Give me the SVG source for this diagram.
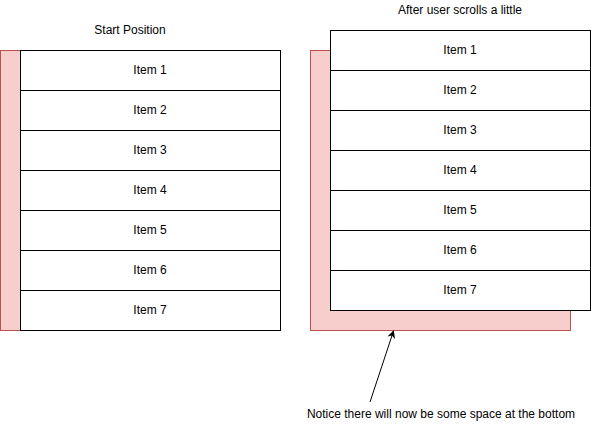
<svg xmlns="http://www.w3.org/2000/svg" width="591" height="426" viewBox="0 0 591 426">
<defs>
<style>
.bg{fill:#f8cecc;stroke:#b85450;stroke-width:1}
.it{fill:#ffffff;stroke:#000000;stroke-width:1}
text{font-family:"Liberation Sans",Arial,Helvetica,sans-serif;font-size:12px;fill:#000000;text-anchor:middle}
</style>
<marker id="ah" viewBox="0 0 10 10" refX="9" refY="5" markerWidth="8" markerHeight="8" orient="auto" markerUnits="userSpaceOnUse">
<path d="M0,0 L10,5 L0,10 L3,5 Z" fill="#000"/>
</marker>
</defs>
<rect width="591" height="426" fill="#ffffff"/>
<g id="title-left"><text x="130" y="34">Start Position</text></g>
<g id="title-right"><text x="460" y="14">After user scrolls a little</text></g>
<g id="left-bg"><rect class="bg" x="0.5" y="50.5" width="260" height="280"/></g>
<g id="left-items">
<g id="l1"><rect class="it" x="20.5" y="50.5" width="260" height="40"/><text x="150" y="74">Item 1</text></g>
<g id="l2"><rect class="it" x="20.5" y="90.5" width="260" height="40"/><text x="150" y="114">Item 2</text></g>
<g id="l3"><rect class="it" x="20.5" y="130.5" width="260" height="40"/><text x="150" y="154">Item 3</text></g>
<g id="l4"><rect class="it" x="20.5" y="170.5" width="260" height="40"/><text x="150" y="194">Item 4</text></g>
<g id="l5"><rect class="it" x="20.5" y="210.5" width="260" height="40"/><text x="150" y="234">Item 5</text></g>
<g id="l6"><rect class="it" x="20.5" y="250.5" width="260" height="40"/><text x="150" y="274">Item 6</text></g>
<g id="l7"><rect class="it" x="20.5" y="290.5" width="260" height="40"/><text x="150" y="314">Item 7</text></g>
</g>
<g id="right-bg"><rect class="bg" x="310.5" y="50.5" width="260" height="280"/></g>
<g id="right-items">
<g id="r1"><rect class="it" x="330.5" y="30.5" width="260" height="40"/><text x="460" y="54">Item 1</text></g>
<g id="r2"><rect class="it" x="330.5" y="70.5" width="260" height="40"/><text x="460" y="94">Item 2</text></g>
<g id="r3"><rect class="it" x="330.5" y="110.5" width="260" height="40"/><text x="460" y="134">Item 3</text></g>
<g id="r4"><rect class="it" x="330.5" y="150.5" width="260" height="40"/><text x="460" y="174">Item 4</text></g>
<g id="r5"><rect class="it" x="330.5" y="190.5" width="260" height="40"/><text x="460" y="214">Item 5</text></g>
<g id="r6"><rect class="it" x="330.5" y="230.5" width="260" height="40"/><text x="460" y="254">Item 6</text></g>
<g id="r7"><rect class="it" x="330.5" y="270.5" width="260" height="40"/><text x="460" y="294">Item 7</text></g>
</g>
<g id="connectors">
<line x1="370" y1="402" x2="393.5" y2="331" stroke="#000" stroke-width="1" marker-end="url(#ah)"/>
</g>
<g id="note"><text x="441" y="418">Notice there will now be some space at the bottom</text></g>
</svg>
